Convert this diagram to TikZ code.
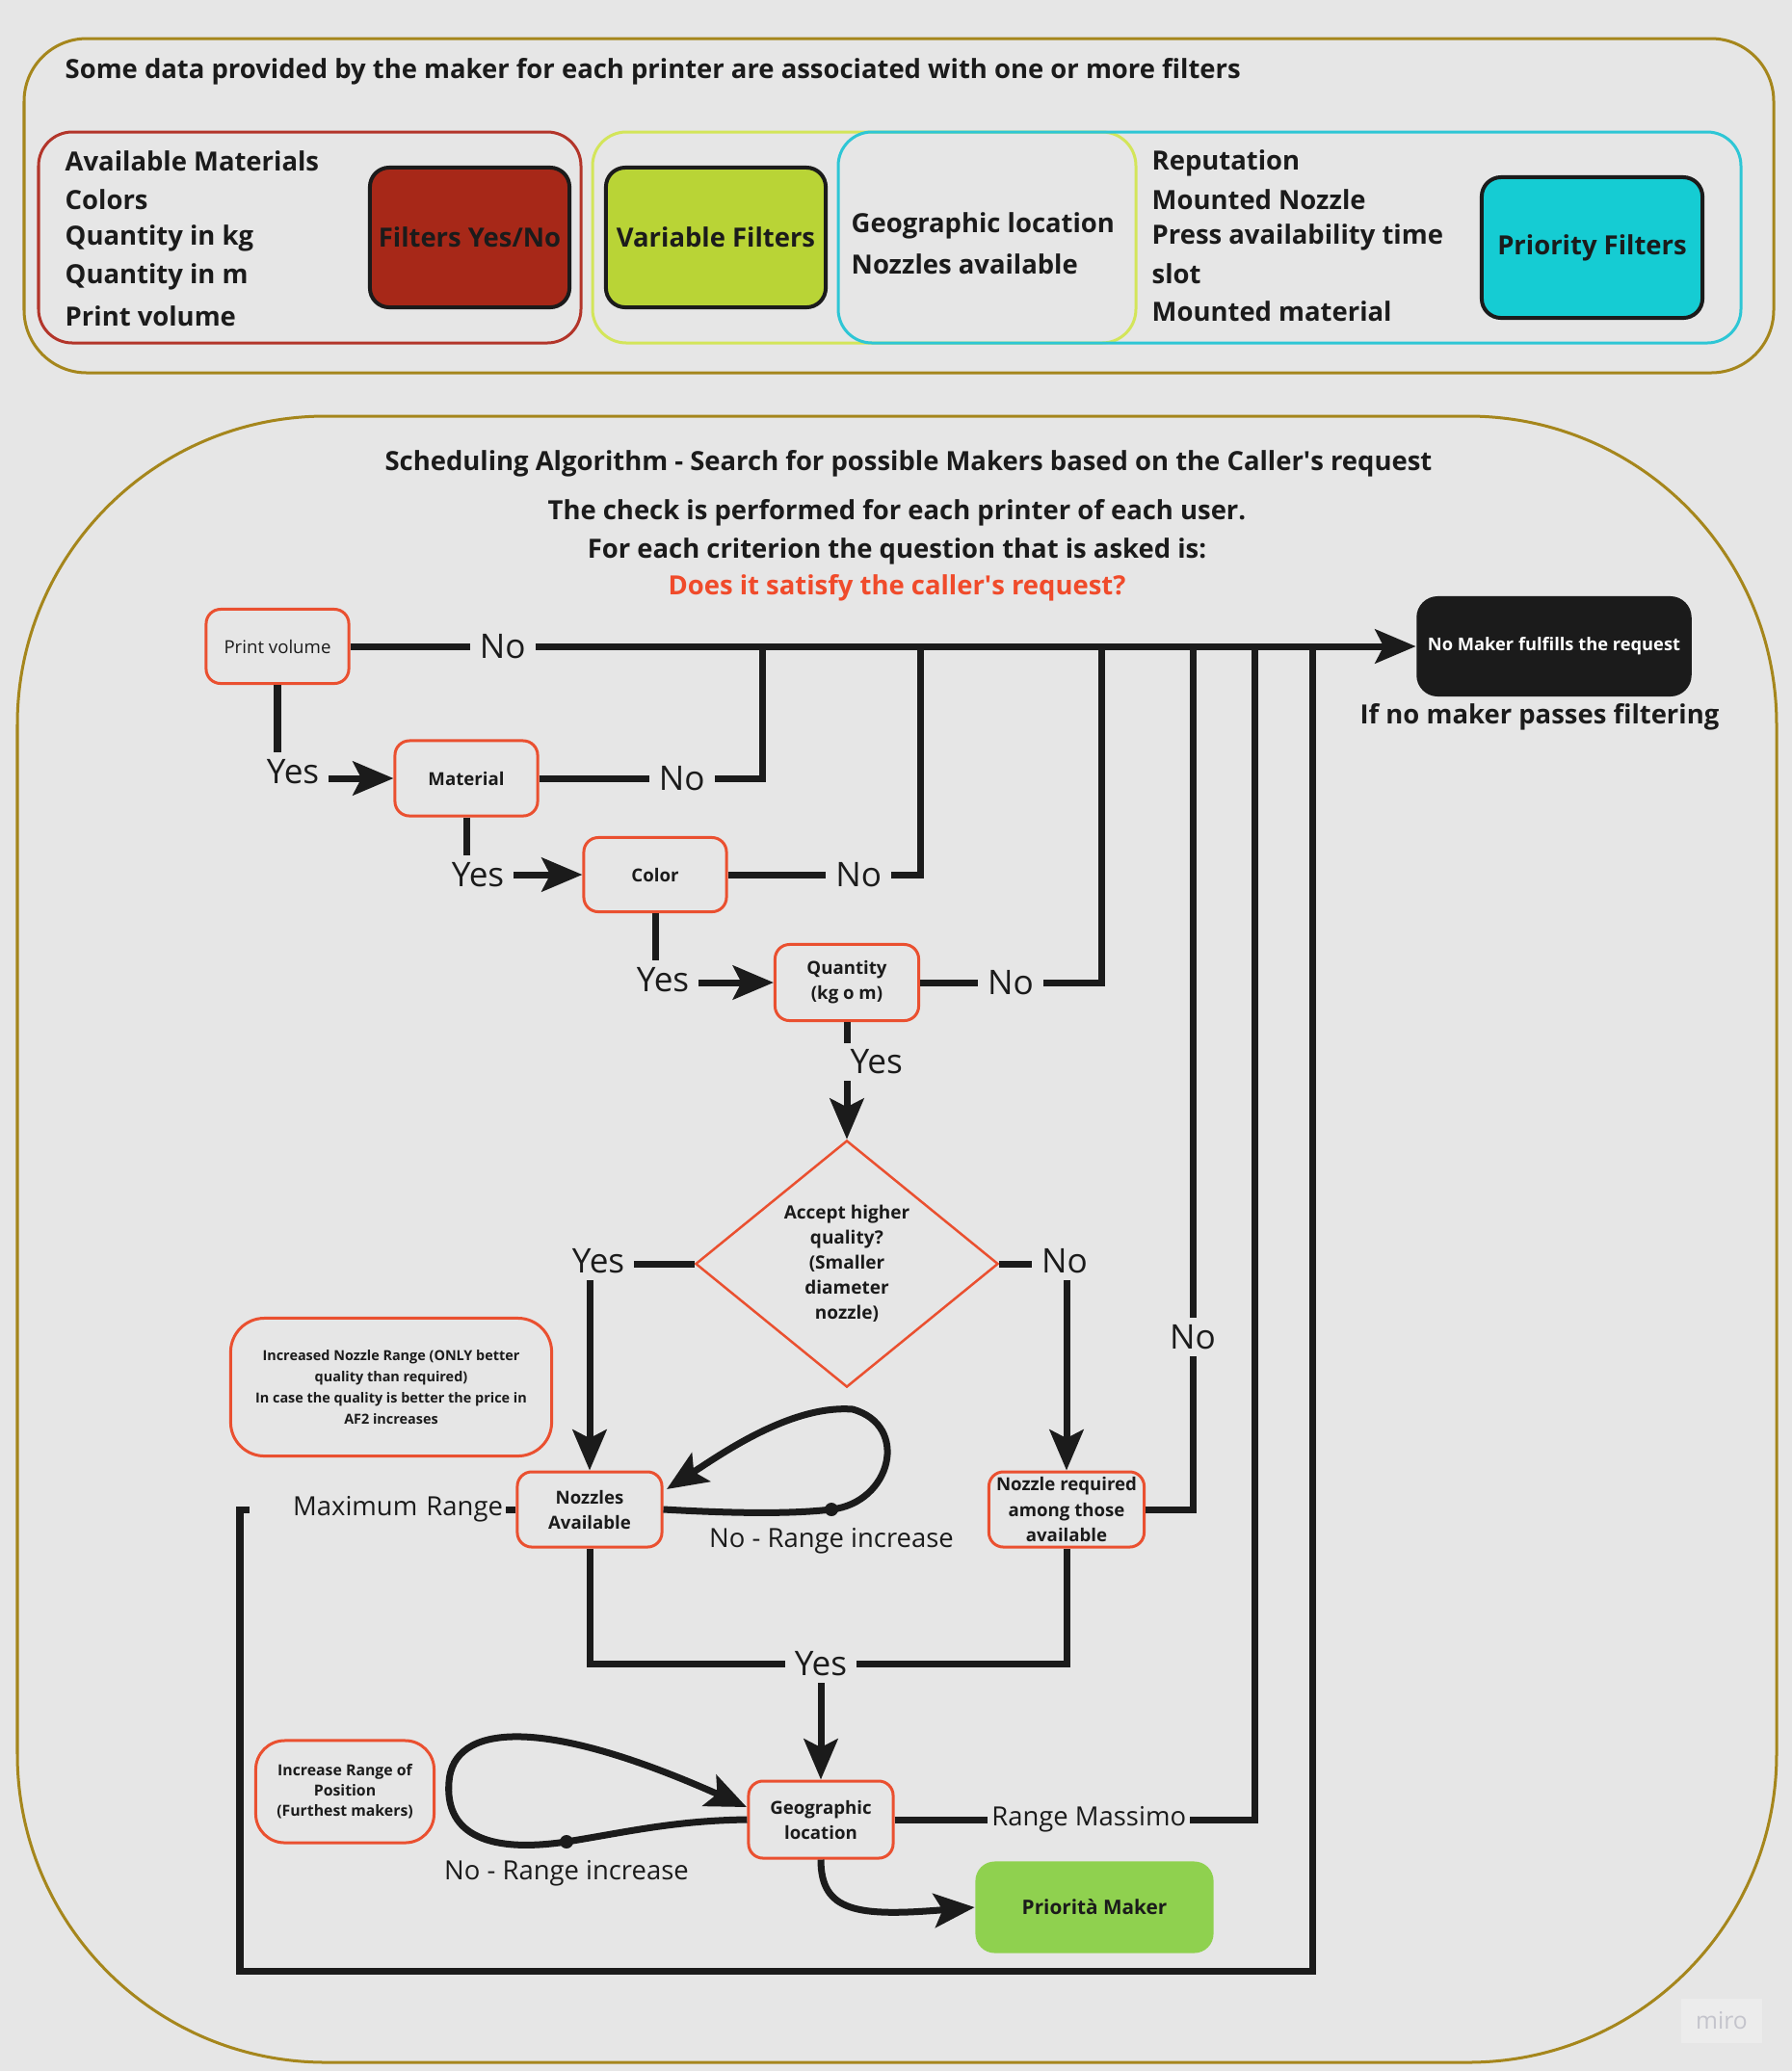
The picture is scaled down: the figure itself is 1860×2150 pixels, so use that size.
\documentclass[tikz,border=0pt]{standalone}
\usepackage{fontspec}
\setmainfont{Open Sans}
\usetikzlibrary{arrows.meta, shapes.geometric, positioning}

\definecolor{bg}{HTML}{E6E6E6}
\definecolor{gold}{HTML}{A5861C}
\definecolor{flowred}{HTML}{EA5030}
\definecolor{boxred}{HTML}{B3352A}
\definecolor{fillred}{HTML}{A72818}
\definecolor{limeline}{HTML}{D3E55A}
\definecolor{filllime}{HTML}{B9D436}
\definecolor{cyanline}{HTML}{2EC6D5}
\definecolor{fillcyan}{HTML}{15CCD3}
\definecolor{ink}{HTML}{1B1B1B}
\definecolor{priogreen}{HTML}{8FD14F}
\definecolor{asktext}{HTML}{F04B2B}
\definecolor{mirobg}{HTML}{ECECEC}
\definecolor{mirotext}{HTML}{C4C4CC}

\tikzset{
  flow/.style={draw=flowred, line width=0.03cm, rounded corners=0.15cm, fill=bg, align=center,
    inner sep=0.03cm, text=ink, font=\bfseries\fontsize{5.3}{7.4}\selectfont},
  filt/.style={draw=ink, line width=0.04cm, rounded corners=0.2cm, align=center, inner sep=0.05cm,
    text=ink, font=\bfseries\fontsize{7.8}{10}\selectfont},
  item/.style={anchor=west, inner sep=0pt, text=ink, font=\bfseries\fontsize{7.8}{10}\selectfont},
  head/.style={inner sep=0pt, text=ink, font=\bfseries\fontsize{7.8}{10}\selectfont},
  conn/.style={draw=ink, line width=0.07cm},
  arr/.style={conn, -{Stealth[length=12pt, width=10pt, inset=2.5pt]}},
  yn/.style={fill=bg, inner xsep=0.1cm, inner ysep=0.07cm, text=ink, font=\fontsize{10}{12}\selectfont},
  note/.style={fill=bg, inner sep=0.04cm, text=ink, font=\fontsize{7.8}{10}\selectfont},
}

\begin{document}
\begin{tikzpicture}[x=0.01cm, y=-0.01cm]
    \fill[bg] (0,0) rectangle (1860,2150);
    \useasboundingbox (0,0) rectangle (1860,2150);

    % Filters legend
    \draw[gold, line width=0.03cm, rounded corners=0.65cm] (25,40) rectangle (1841,387);
    \node[item] (legtitle) at (67,74) {Some data provided by the maker for each printer are associated with one or more filters};

    \draw[boxred, line width=0.03cm, rounded corners=0.35cm] (40,137) rectangle (603,356);
    \draw[limeline, line width=0.03cm, rounded corners=0.35cm] (615,137) rectangle (1179,356);
    \draw[cyanline, line width=0.03cm, rounded corners=0.35cm] (870,137) rectangle (1807,356);

    \foreach \txt [count=\i] in {Available Materials, Colors, Quantity in kg, Quantity in m, Print volume}
        \node[item] (ynl\i) at (67,{167+40.25*(\i-1)}) {\txt};
    \node[item] (varl1) at (883,234) {Geographic location};
    \node[item] (varl2) at (883,274) {Nozzles available};
    \foreach \txt [count=\i] in {Reputation, Mounted Nozzle, Press availability time, slot, Mounted material}
        \node[item] (prl\i) at (1195,{169+38.5*(\i-1)}) {\txt};

    \node[filt, fill=fillred, minimum width=2.07cm, minimum height=1.45cm] (yesno) at (487.5,246.5) {Filters Yes/No};
    \node[filt, fill=filllime, minimum width=2.28cm, minimum height=1.45cm] (varf) at (743,246.5) {Variable Filters};
    \node[filt, fill=fillcyan, minimum width=2.29cm, minimum height=1.46cm] (prif) at (1652.5,257) {Priority Filters};

    % Scheduling frame
    \draw[gold, line width=0.03cm, rounded corners=3.2cm] (18,432) rectangle (1844,2141);
    \node[head] (schedtitle) at (943,481) {Scheduling Algorithm - Search for possible Makers based on the Caller\textquotesingle s request};
    \node[head] (check1) at (931,532) {The check is performed for each printer of each user.};
    \node[head] (check2) at (931,572) {For each criterion the question that is asked is:};
    \node[head, text=asktext] (ask) at (931,610) {Does it satisfy the caller\textquotesingle s request?};

    % Draw nodes
    \node[flow, minimum width=1.48cm, minimum height=0.77cm, font=\fontsize{5.3}{7.4}\selectfont] (pv) at (288,671) {Print volume};
    \node[flow, minimum width=1.48cm, minimum height=0.78cm] (mat) at (484,808) {Material};
    \node[flow, minimum width=1.48cm, minimum height=0.77cm] (col) at (680,908) {Color};
    \node[flow, minimum width=1.49cm, minimum height=0.79cm] (qty) at (879,1020) {Quantity\\(kg o m)};
    \node[flow, shape=diamond, rounded corners=0pt, line width=0.025cm, inner sep=0pt, aspect=1.2,
          minimum width=3.14cm, minimum height=2.56cm, font=\bfseries\fontsize{5.4}{7.4}\selectfont] (acc) at (879,1312)
          {Accept higher\\quality?\\(Smaller\\diameter\\nozzle)};
    \node[flow, minimum width=3.33cm, minimum height=1.43cm, rounded corners=0.35cm,
          font=\bfseries\fontsize{4.1}{6.2}\selectfont] (incnoz) at (406,1440)
          {Increased Nozzle Range (ONLY better\\quality than required)\\In case the quality is better the price in\\AF2 increases};
    \node[flow, minimum width=1.5cm, minimum height=0.78cm] (noz) at (612,1567) {Nozzles\\Available};
    \node[flow, minimum width=1.61cm, minimum height=0.78cm] (req) at (1107,1567) {Nozzle required\\among those\\available};
    \node[flow, minimum width=1.85cm, minimum height=1.06cm, rounded corners=0.3cm,
          font=\bfseries\fontsize{4.5}{6}\selectfont] (incpos) at (358,1860) {Increase Range of\\Position\\(Furthest makers)};
    \node[flow, minimum width=1.5cm, minimum height=0.8cm] (geo) at (852,1889) {Geographic\\location};
    \node[fill=priogreen, rounded corners=0.2cm, minimum width=2.47cm, minimum height=0.95cm, text=ink,
          font=\bfseries\fontsize{5.9}{7}\selectfont] (prio) at (1136,1980) {Priorità Maker};
    \node[fill=ink, text=white, rounded corners=0.22cm, minimum width=2.8cm, minimum height=1.04cm,
          font=\bfseries\fontsize{5.2}{7}\selectfont] (nomk) at (1613,671) {No Maker fulfills the request};
    \node[head] (nopass) at (1598,744) {If no maker passes filtering};

    \coordinate (nm1) at (791,671);
    \coordinate (nm2) at (955,671);
    \coordinate (nm3) at (1143,671);
    \coordinate (nm4) at (1238,671);
    \coordinate (nm5) at (1302,671);
    \coordinate (nm6) at (1362,671);
    \coordinate (mrtop) at (249,1567);
    \coordinate (mrbot) at (249,2046);
    \coordinate (yj) at (852,1727);
    \coordinate (dotn) at (863,1567);
    \coordinate (nozin) at (692,1546);
    \coordinate (dotg) at (588,1912);
    \coordinate (geoin) at (775,1876);

    % Draw connections
    \draw[arr] (pv.east) -- node[yn, pos=0.143] {No} (nomk.west);
    \draw[conn] (mat.east) -| node[yn, pos=0.32] {No} (nm1);
    \draw[conn] (col.east) -| node[yn, pos=0.34] {No} (nm2);
    \draw[conn] (qty.east) -| node[yn, pos=0.25] {No} (nm3);
    \draw[conn] (req.east) -| node[yn, pos=0.6] {No} (nm4);
    \draw[conn] (geo.east) -| node[note, pos=0.27] {Range Massimo} (nm5);
    \draw[conn] (noz.west) -- ++(-7,0) node[note, anchor=east, text width=2.6cm, align=right, inner xsep=0.03cm] {Maximum Range}
        -- (mrtop) -- (mrbot) -| (nm6);

    \draw[arr] (pv.south) |- node[yn, pos=0.5, xshift=0.16cm, yshift=0.07cm] {Yes} (mat.west);
    \draw[arr] (mat.south) |- node[yn, pos=0.5, xshift=0.12cm] {Yes} (col.west);
    \draw[arr] (col.south) |- node[yn, pos=0.5, xshift=0.08cm, yshift=0.03cm] {Yes} (qty.west);
    \draw[arr] (qty.south) -- node[yn, anchor=west, pos=0.34, xshift=-0.1cm] {Yes} (acc.north);
    \draw[arr] (acc.west) -| node[yn, pos=0.5, xshift=0.09cm, yshift=0.03cm] {Yes} (noz.north);
    \draw[arr] (acc.east) -| node[yn, pos=0.5, xshift=-0.02cm, yshift=0.03cm] {No} (req.north);

    \draw[arr] (yj) -- (geo.north);
    \draw[conn] (noz.south) |- (yj) node[yn] {Yes} -| (req.south);

    % Loops
    \draw[arr] (noz.east) .. controls (760,1571) and (820,1572) .. (dotn)
        node[note, fill=none, below=0.12cm] {No - Range increase}
        .. controls (925,1560) and (945,1480) .. (885,1463)
        .. controls (820,1458) and (745,1512) .. (nozin);
    \fill[ink] (dotn) circle (0.07cm);

    \draw[arr] (geo.west) .. controls (700,1890) and (650,1902) .. (dotg)
        node[note, fill=none, below=0.12cm] {No - Range increase}
        .. controls (500,1925) and (462,1900) .. (466,1850)
        .. controls (470,1790) and (560,1780) .. (geoin);
    \fill[ink] (dotg) circle (0.07cm);

    \draw[arr] (geo.south) .. controls (852,1985) and (890,1990) .. (prio.west);

    % Labels
    \node[fill=mirobg, text=mirotext, minimum width=0.84cm, minimum height=0.46cm,
          font=\fontsize{7}{8}\selectfont] (miro) at (1787,2098) {miro};
\end{tikzpicture}
\end{document}
